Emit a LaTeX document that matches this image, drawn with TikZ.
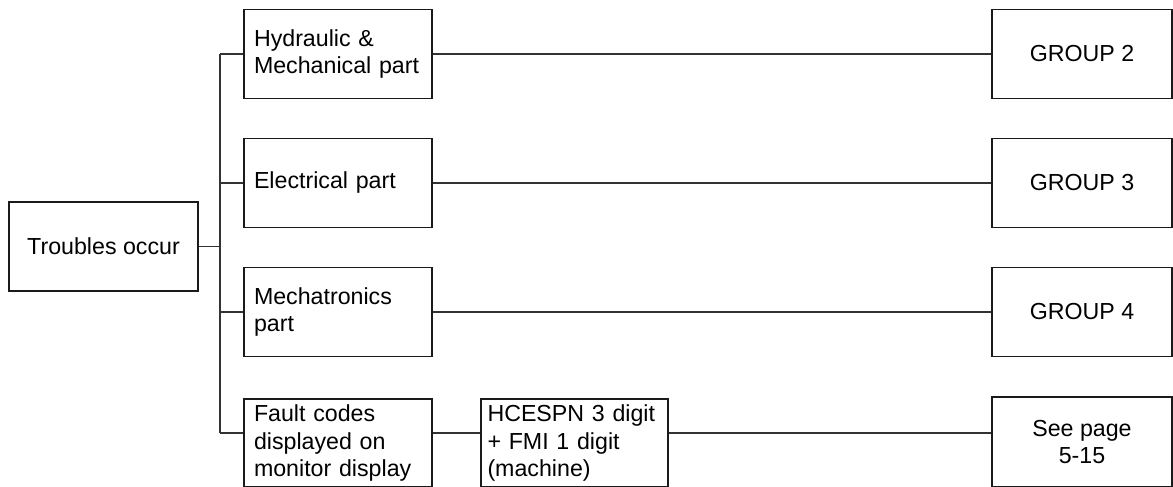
\documentclass[tikz,border=0pt]{standalone}
\usepackage{fontspec}
\setmainfont{Liberation Sans}
\usepackage{tikz}
\usetikzlibrary{calc}
\definecolor{ink}{HTML}{1A1A1A}
\definecolor{wire}{HTML}{333333}
\tikzset{
  boxBase/.style={draw=ink, line width=0.75pt, minimum height=44.5pt, inner ysep=0pt,
    font=\fontsize{11.6}{13.8}\selectfont},
  partBox/.style={boxBase, text width=84pt, inner xsep=5pt, align=left},
  codeBox/.style={boxBase, text width=87pt, inner xsep=3.25pt, align=left},
  groupBox/.style={boxBase, minimum width=90pt, align=center},
  startBox/.style={boxBase, minimum width=94.5pt, align=center},
  link/.style={draw=wire, line width=0.55pt}
}

\begin{document}
\begin{tikzpicture}[x=0.5pt, y=-0.5pt]
  \useasboundingbox (0,0) rectangle (1173,487);

  \coordinate (busT) at (220,54);
  \coordinate (busB) at (220,433);

  \node[startBox] (trouble) at (103.5,246.5) {Troubles occur};

  \node[partBox] (hydraulic)    at (338,54)  {Hydraulic \&\\Mechanical part};
  \node[partBox] (electrical)   at (338,183) {Electrical part};
  \node[partBox] (mechatronics) at (338,312) {Mechatronics\\part};
  \node[partBox, minimum height=44pt] (fault) at (338,443) {Fault codes\\displayed on\\monitor display};

  \node[codeBox, minimum height=44pt] (hcespn) at (574.5,443) {HCESPN 3 digit\\+ FMI 1 digit\\(machine)};

  \node[groupBox] (group2)  at (1082,54)  {GROUP 2};
  \node[groupBox] (group3)  at (1082,183) {GROUP 3};
  \node[groupBox] (group4)  at (1082,312) {GROUP 4};
  \node[groupBox, minimum height=45pt] (seePage) at (1082,442) {See page\\5-15};

  % bus from the start box
  \draw[link] (trouble.east) -- (trouble.east -| busT);
  \draw[link] (busT) -- (busB);
  \draw[link] (busT |- hydraulic.west) -- (hydraulic.west);
  \draw[link] (busT |- electrical.west) -- (electrical.west);
  \draw[link] (busT |- mechatronics.west) -- (mechatronics.west);
  \draw[link] (busB) -- (busB -| fault.west);

  % to the groups
  \draw[link] (hydraulic.east) -- (group2.west);
  \draw[link] (electrical.east) -- (group3.west);
  \draw[link] (mechatronics.east) -- (group4.west);
  \draw[link] (fault.east |- busB) -- (hcespn.west |- busB);
  \draw[link] (hcespn.east |- busB) -- (seePage.west |- busB);
\end{tikzpicture}
\end{document}
